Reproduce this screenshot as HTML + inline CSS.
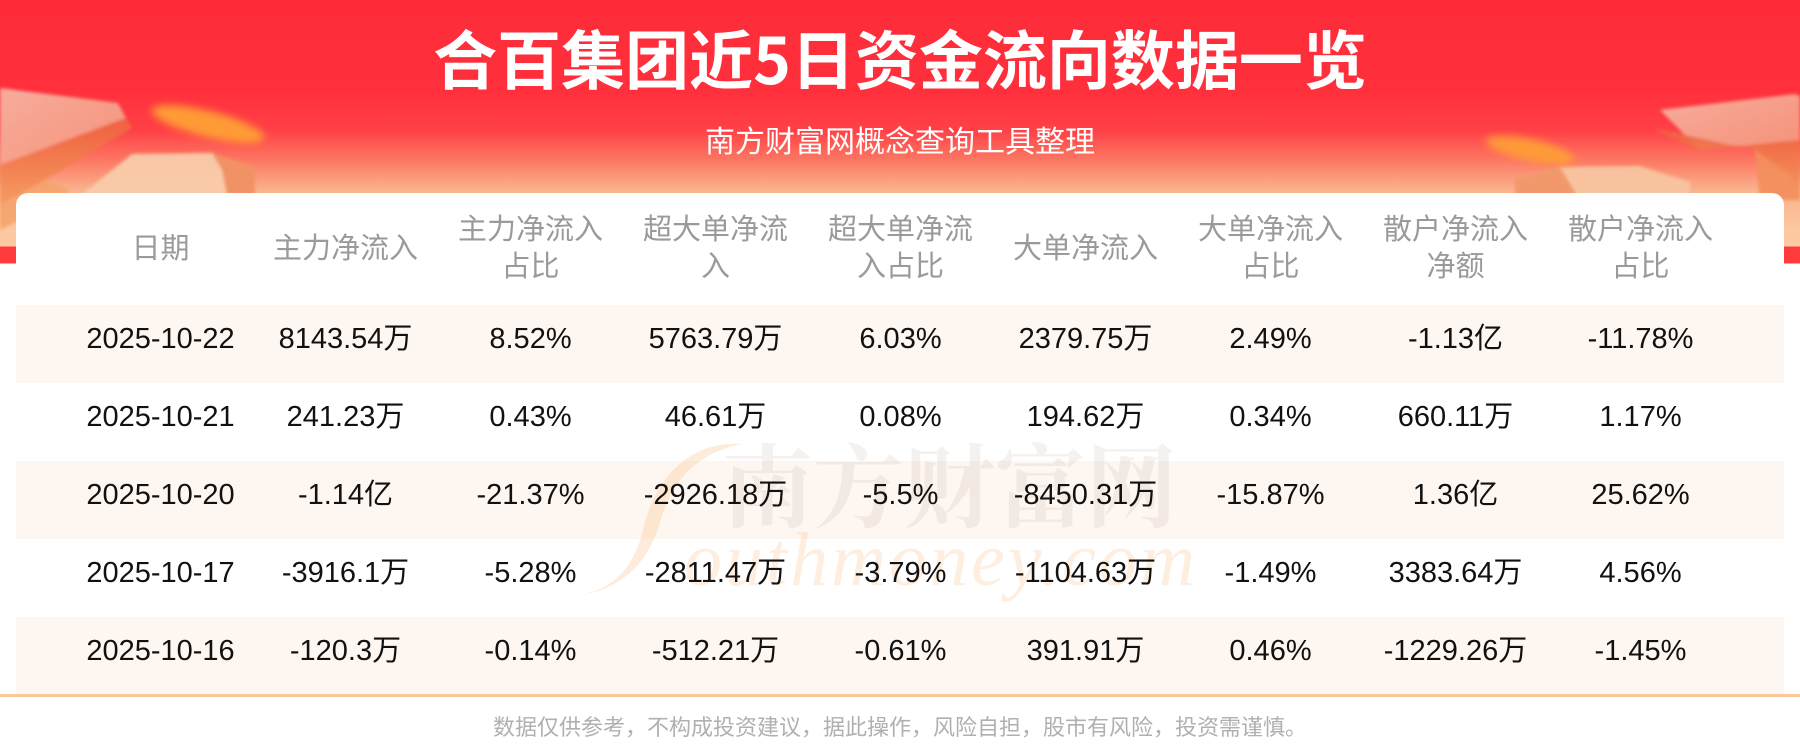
<!DOCTYPE html>
<html>
<head>
<meta charset="utf-8">
<style>
  html,body{margin:0;padding:0;}
  body{width:1800px;height:743px;overflow:hidden;position:relative;background:#fff;
       font-family:"Liberation Sans","Noto Sans CJK SC",sans-serif;}
  .hdr{position:absolute;left:0;top:0;width:1800px;height:280px;
       background:linear-gradient(180deg,#fe2c39 0px,#ff2f3c 90px,#ff4046 130px,#fc7762 160px,#fab28d 190px,#fbc8a0 230px,#fbcaa2 246px,#ff3b3c 247px,#ff3b3c 263px,#ffffff 264px);}
  .title{position:absolute;left:0;width:1800px;top:25px;height:64px;line-height:64px;text-align:center;
       color:#fff;font-family:"Noto Sans CJK SC","WenQuanYi Zen Hei",sans-serif;font-weight:700;font-size:64px;white-space:nowrap;}
  .sub{position:absolute;left:0;width:1800px;top:124px;height:30px;line-height:30px;text-align:center;
       color:#fff;font-family:"Noto Sans CJK SC",sans-serif;font-size:30px;white-space:nowrap;}
  .card{position:absolute;left:16px;top:193px;width:1768px;height:560px;background:#fff;border-radius:12px;}
  .stripe{position:absolute;left:16px;width:1768px;height:78px;background:#fef6f0;}
  .th{position:absolute;top:193px;height:112px;width:185px;display:flex;align-items:center;justify-content:center;
      text-align:center;color:#9a9a9a;font-family:"Noto Sans CJK SC",sans-serif;font-size:29px;line-height:37px;white-space:nowrap;}
  .th span{position:relative;top:-3px;}
  .td{position:absolute;width:185px;height:78px;line-height:78px;text-align:center;color:#111;font-size:29px;white-space:nowrap;}
  .td span{position:relative;top:-5px;}
  .line{position:absolute;left:0;top:694px;width:1800px;height:3px;background:#fbc999;}
  .foot{position:absolute;left:493px;top:715px;height:22px;line-height:22px;color:#b0b0b0;
        font-family:"Noto Sans CJK SC",sans-serif;font-size:22px;white-space:nowrap;}
  .wm1{position:absolute;left:722px;top:432px;font-family:"Noto Serif CJK SC","Noto Sans CJK SC",serif;font-weight:700;
       font-size:91px;line-height:100px;color:rgba(130,100,90,0.085);white-space:nowrap;}
  .wm2{position:absolute;left:684px;top:520px;font-family:"Liberation Serif",serif;font-style:italic;font-size:76px;
       line-height:80px;letter-spacing:3px;color:rgba(250,190,130,0.26);white-space:nowrap;}
</style>
</head>
<body>
<div class="hdr"></div>
<svg style="position:absolute;left:0;top:0" width="1800" height="270" viewBox="0 0 1800 270">
  <defs>
    <filter id="bl" x="-50%" y="-50%" width="200%" height="200%"><feGaussianBlur stdDeviation="4"/></filter>
    <filter id="bl2" x="-20%" y="-20%" width="140%" height="140%"><feGaussianBlur stdDeviation="1.5"/></filter>
    <linearGradient id="pl" x1="0" y1="0" x2="1" y2="1">
      <stop offset="0" stop-color="#f7b3a2"/><stop offset="1" stop-color="#f4957a"/>
    </linearGradient>
    <linearGradient id="or" x1="0" y1="0" x2="0" y2="1">
      <stop offset="0" stop-color="#ee6440"/><stop offset="1" stop-color="#f5985c"/>
    </linearGradient>
  </defs>
  <!-- left decoration -->
  <g filter="url(#bl2)">
    <polygon points="0,88 118,103 126,118 40,150 0,165" fill="url(#pl)" opacity="0.95"/>
    <polygon points="126,118 132,128 45,180 0,205 0,165 40,150" fill="url(#or)" opacity="0.9"/>
    <polygon points="0,205 45,180 70,190 60,200 0,230" fill="#f4a26a" opacity="0.85"/>
    <polygon points="132,154 212,153 255,168 255,200 75,200" fill="#f9cbaa" opacity="0.95"/>
    <polygon points="212,153 255,168 255,200 228,200 222,170" fill="#f18c5c" opacity="0.9"/>
  </g>
  <ellipse cx="208" cy="124" rx="58" ry="13" transform="rotate(14 208 124)" fill="#ffa035" filter="url(#bl)" opacity="0.95"/>
  <!-- right decoration -->
  <g filter="url(#bl2)">
    <polygon points="1660,110 1795,94 1800,96 1800,140 1700,150" fill="url(#pl)" opacity="0.95"/>
    <polygon points="1652,128 1700,150 1800,140 1800,200 1760,200 1755,150" fill="url(#or)" opacity="0.9"/>
    <polygon points="1760,200 1755,150 1790,175 1800,200" fill="#f49060" opacity="0.85"/>
    <polygon points="1515,178 1560,167 1640,166 1690,182 1690,200 1515,200" fill="#f8c4a0" opacity="0.95"/>
    <polygon points="1515,178 1560,167 1580,200 1515,200" fill="#f19063" opacity="0.85"/>
  </g>
  <ellipse cx="1530" cy="150" rx="45" ry="11" transform="rotate(12 1530 150)" fill="#ffa035" filter="url(#bl)" opacity="0.9"/>
</svg>

<div class="title">合百集团近5日资金流向数据一览</div>
<div class="sub">南方财富网概念查询工具整理</div>

<div class="card"></div>
<div class="stripe" style="top:305px"></div>
<div class="stripe" style="top:461px"></div>
<div class="stripe" style="top:617px"></div>

<!-- watermark -->
<svg style="position:absolute;left:0;top:0" width="1800" height="743" viewBox="0 0 1800 743">
  <path d="M742 444 C690 440 655 478 643 530 C633 570 612 590 576 596 C620 590 648 565 660 522 C672 478 700 452 742 444 Z" fill="rgba(250,195,140,0.32)"/>
</svg>
<div class="wm1">南方财富网</div>
<div class="wm2">outhmoney.com</div>

<!-- header -->
<div class="th" style="left:68px"><span>日期</span></div>
<div class="th" style="left:253px"><span>主力净流入</span></div>
<div class="th" style="left:438px"><span>主力净流入<br>占比</span></div>
<div class="th" style="left:623px"><span>超大单净流<br>入</span></div>
<div class="th" style="left:808px"><span>超大单净流<br>入占比</span></div>
<div class="th" style="left:993px"><span>大单净流入</span></div>
<div class="th" style="left:1178px"><span>大单净流入<br>占比</span></div>
<div class="th" style="left:1363px"><span>散户净流入<br>净额</span></div>
<div class="th" style="left:1548px"><span>散户净流入<br>占比</span></div>

<!-- row 1 -->
<div class="td" style="left:68px;top:305px"><span>2025-10-22</span></div>
<div class="td" style="left:253px;top:305px"><span>8143.54万</span></div>
<div class="td" style="left:438px;top:305px"><span>8.52%</span></div>
<div class="td" style="left:623px;top:305px"><span>5763.79万</span></div>
<div class="td" style="left:808px;top:305px"><span>6.03%</span></div>
<div class="td" style="left:993px;top:305px"><span>2379.75万</span></div>
<div class="td" style="left:1178px;top:305px"><span>2.49%</span></div>
<div class="td" style="left:1363px;top:305px"><span>-1.13亿</span></div>
<div class="td" style="left:1548px;top:305px"><span>-11.78%</span></div>
<!-- row 2 -->
<div class="td" style="left:68px;top:383px"><span>2025-10-21</span></div>
<div class="td" style="left:253px;top:383px"><span>241.23万</span></div>
<div class="td" style="left:438px;top:383px"><span>0.43%</span></div>
<div class="td" style="left:623px;top:383px"><span>46.61万</span></div>
<div class="td" style="left:808px;top:383px"><span>0.08%</span></div>
<div class="td" style="left:993px;top:383px"><span>194.62万</span></div>
<div class="td" style="left:1178px;top:383px"><span>0.34%</span></div>
<div class="td" style="left:1363px;top:383px"><span>660.11万</span></div>
<div class="td" style="left:1548px;top:383px"><span>1.17%</span></div>
<!-- row 3 -->
<div class="td" style="left:68px;top:461px"><span>2025-10-20</span></div>
<div class="td" style="left:253px;top:461px"><span>-1.14亿</span></div>
<div class="td" style="left:438px;top:461px"><span>-21.37%</span></div>
<div class="td" style="left:623px;top:461px"><span>-2926.18万</span></div>
<div class="td" style="left:808px;top:461px"><span>-5.5%</span></div>
<div class="td" style="left:993px;top:461px"><span>-8450.31万</span></div>
<div class="td" style="left:1178px;top:461px"><span>-15.87%</span></div>
<div class="td" style="left:1363px;top:461px"><span>1.36亿</span></div>
<div class="td" style="left:1548px;top:461px"><span>25.62%</span></div>
<!-- row 4 -->
<div class="td" style="left:68px;top:539px"><span>2025-10-17</span></div>
<div class="td" style="left:253px;top:539px"><span>-3916.1万</span></div>
<div class="td" style="left:438px;top:539px"><span>-5.28%</span></div>
<div class="td" style="left:623px;top:539px"><span>-2811.47万</span></div>
<div class="td" style="left:808px;top:539px"><span>-3.79%</span></div>
<div class="td" style="left:993px;top:539px"><span>-1104.63万</span></div>
<div class="td" style="left:1178px;top:539px"><span>-1.49%</span></div>
<div class="td" style="left:1363px;top:539px"><span>3383.64万</span></div>
<div class="td" style="left:1548px;top:539px"><span>4.56%</span></div>
<!-- row 5 -->
<div class="td" style="left:68px;top:617px"><span>2025-10-16</span></div>
<div class="td" style="left:253px;top:617px"><span>-120.3万</span></div>
<div class="td" style="left:438px;top:617px"><span>-0.14%</span></div>
<div class="td" style="left:623px;top:617px"><span>-512.21万</span></div>
<div class="td" style="left:808px;top:617px"><span>-0.61%</span></div>
<div class="td" style="left:993px;top:617px"><span>391.91万</span></div>
<div class="td" style="left:1178px;top:617px"><span>0.46%</span></div>
<div class="td" style="left:1363px;top:617px"><span>-1229.26万</span></div>
<div class="td" style="left:1548px;top:617px"><span>-1.45%</span></div>

<div class="line"></div>
<div class="foot">数据仅供参考，不构成投资建议，据此操作，风险自担，股市有风险，投资需谨慎。</div>
</body>
</html>
